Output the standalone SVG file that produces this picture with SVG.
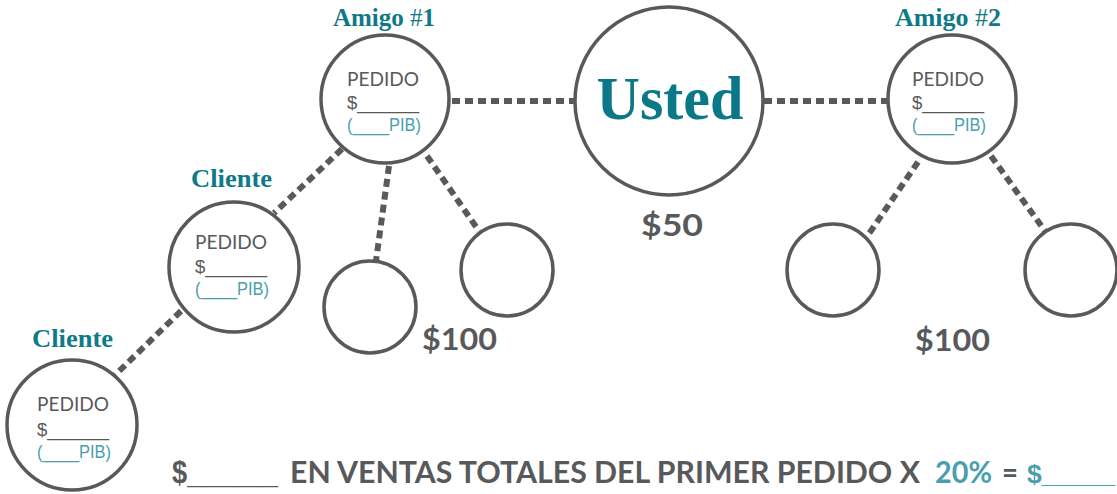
<svg xmlns="http://www.w3.org/2000/svg" width="1117" height="494" viewBox="0 0 1117 494">
<style>
.c{fill:#fff;stroke:#58595b;stroke-width:3.5}
.e{stroke:#58595b;stroke-width:6;stroke-dasharray:8 5;fill:none}
.t{font-family:Lato,"Liberation Sans",Arial,sans-serif;font-size:19px;fill:#58595b}
.tu{font-family:"Liberation Sans",Arial,sans-serif;font-size:19px;fill:#58595b}
.p{font-family:"Liberation Sans",Arial,sans-serif;font-size:19px;fill:#4a9fae}
.lab{font-family:"Liberation Serif","Times New Roman",serif;font-weight:bold;font-size:25px;fill:#0f7a87}
.hash{font-weight:normal}
.m{font-family:Lato,"Liberation Sans",Arial,sans-serif;font-weight:bold;font-size:31px;fill:#58595b}
.mu{font-family:"Liberation Sans",Arial,sans-serif;font-weight:bold;font-size:31px;fill:#58595b}
.mt{font-family:Lato,"Liberation Sans",Arial,sans-serif;font-weight:bold;font-size:31px;fill:#4a9fae}
.mtu{font-family:"Liberation Sans",Arial,sans-serif;font-weight:bold;font-size:26.5px;fill:#4a9fae}
</style>
<rect width="1117" height="494" fill="#fff"/>
<g id="connectors">
<line class="e" x1="452" y1="101" x2="575" y2="101"/>
<line class="e" x1="764" y1="101" x2="887" y2="101"/>
<line class="e" x1="342" y1="149" x2="274" y2="213"/>
<line class="e" x1="389" y1="166" x2="376" y2="261"/>
<line class="e" x1="427" y1="156" x2="479" y2="231"/>
<line class="e" x1="181" y1="311" x2="114" y2="376"/>
<line class="e" x1="918" y1="162" x2="866" y2="238"/>
<line class="e" x1="991" y1="156" x2="1045" y2="231"/>
</g>
<g id="usted">
<circle class="c" cx="669" cy="101" r="94"/>
<text x="670" y="119" text-anchor="middle" font-family="'Liberation Serif','Times New Roman',serif" font-weight="bold" font-size="62" fill="#0b7887" textLength="147" lengthAdjust="spacingAndGlyphs">Usted</text>
<text class="m" x="641" y="236" textLength="62" lengthAdjust="spacingAndGlyphs">$50</text>
</g>
<g id="amigo1">
<text class="lab" x="333" y="26" textLength="102" lengthAdjust="spacingAndGlyphs">Amigo <tspan class="hash">#</tspan>1</text>
<circle class="c" cx="385" cy="99" r="64"/>
<text class="t" x="347" y="86" textLength="72" lengthAdjust="spacingAndGlyphs">PEDIDO</text>
<text class="tu" x="347" y="109" textLength="72" lengthAdjust="spacingAndGlyphs">$______</text>
<text class="p" x="347" y="131" textLength="74" lengthAdjust="spacingAndGlyphs">(____PIB)</text>
</g>
<g id="amigo2">
<text class="lab" x="895" y="26" textLength="106" lengthAdjust="spacingAndGlyphs">Amigo <tspan class="hash">#</tspan>2</text>
<circle class="c" cx="952" cy="99" r="64"/>
<text class="t" x="912" y="86" textLength="72" lengthAdjust="spacingAndGlyphs">PEDIDO</text>
<text class="tu" x="912" y="109" textLength="72" lengthAdjust="spacingAndGlyphs">$______</text>
<text class="p" x="912" y="131" textLength="74" lengthAdjust="spacingAndGlyphs">(____PIB)</text>
</g>
<g id="cliente1">
<text class="lab" x="191" y="187" textLength="81" lengthAdjust="spacingAndGlyphs">Cliente</text>
<circle class="c" cx="234" cy="267" r="65"/>
<text class="t" x="195" y="249" textLength="72" lengthAdjust="spacingAndGlyphs">PEDIDO</text>
<text class="tu" x="195" y="273" textLength="72" lengthAdjust="spacingAndGlyphs">$______</text>
<text class="p" x="195" y="295" textLength="74" lengthAdjust="spacingAndGlyphs">(____PIB)</text>
</g>
<g id="cliente2">
<text class="lab" x="32" y="347" textLength="81" lengthAdjust="spacingAndGlyphs">Cliente</text>
<circle class="c" cx="72" cy="425" r="65"/>
<text class="t" x="37" y="411" textLength="72" lengthAdjust="spacingAndGlyphs">PEDIDO</text>
<text class="tu" x="37" y="436" textLength="72" lengthAdjust="spacingAndGlyphs">$______</text>
<text class="p" x="37" y="458" textLength="74" lengthAdjust="spacingAndGlyphs">(____PIB)</text>
</g>
<g id="hijo1">
<circle class="c" cx="370" cy="307" r="46"/>
</g>
<g id="hijo2">
<circle class="c" cx="507" cy="270" r="46"/>
<text class="m" x="422" y="350" textLength="75" lengthAdjust="spacingAndGlyphs">$100</text>
</g>
<g id="hijo3">
<circle class="c" cx="833" cy="270" r="46"/>
</g>
<g id="hijo4">
<circle class="c" cx="1071" cy="270" r="46"/>
<text class="m" x="915" y="351" textLength="75" lengthAdjust="spacingAndGlyphs">$100</text>
</g>
<g id="formula">
<text class="mu" x="172" y="483" textLength="106" lengthAdjust="spacingAndGlyphs">$______</text>
<text class="m" x="290" y="483" textLength="630" lengthAdjust="spacingAndGlyphs">EN VENTAS TOTALES DEL PRIMER PEDIDO X</text>
<text class="mt" x="935" y="483" textLength="57" lengthAdjust="spacingAndGlyphs">20%</text>
<text class="m" x="1002" y="483" textLength="16" lengthAdjust="spacingAndGlyphs">=</text>
<text class="mtu" x="1027" y="483" textLength="88" lengthAdjust="spacingAndGlyphs">$_____</text>
</g>
</svg>
